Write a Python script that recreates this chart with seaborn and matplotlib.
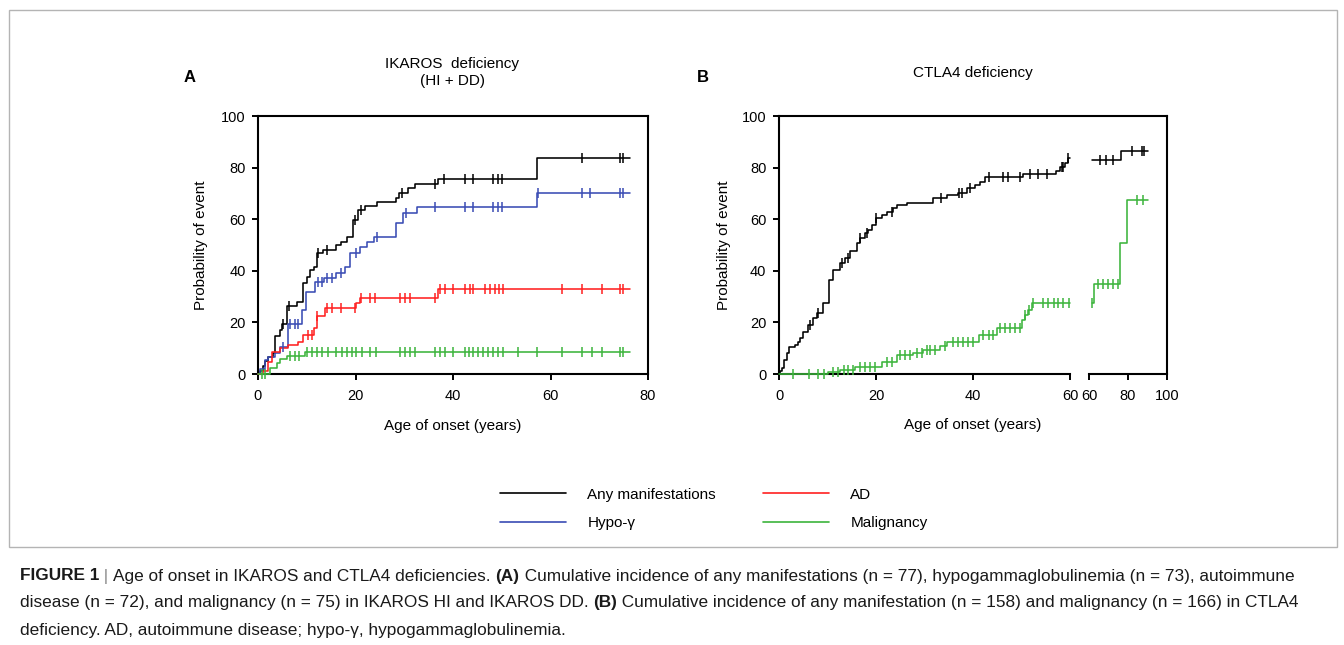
import numpy as np
import pandas as pd
import matplotlib
matplotlib.use("Agg")
import matplotlib.pyplot as plt
import matplotlib.patches as mpatches
from matplotlib.lines import Line2D
import seaborn as sns

sns.set_theme(style="ticks", rc={"axes.edgecolor": "black", "xtick.color": "black",
                                 "ytick.color": "black", "text.color": "black",
                                 "axes.labelcolor": "black"})
plt.rcParams["font.family"] = ["Liberation Sans", "DejaVu Sans"]

# ---- Panel A: IKAROS deficiency (HI + DD) ----
# step times / cumulative incidence (%) after each step, censor times
a_any_t = [0, 0.5, 1, 1.5, 2, 3, 3.4, 4.5, 5, 5.9, 8, 9.2, 10, 10.6, 11.5, 12.2, 13.4,
           16.1, 17.1, 18.2, 19.5, 20.5, 22, 24.4, 28.4, 29, 30.8, 32.2, 37, 57.2, 76.3]
a_any_p = [0, 1.3, 3, 5, 6.5, 8, 14.7, 17, 19.5, 26.5, 28, 35.4, 37.5, 40.3, 41.5, 46.9, 48,
           50, 51.3, 53.2, 59.7, 63.6, 65.2, 66.8, 68.2, 70.2, 72.1, 73.6, 75.6, 83.6, 83.6]
a_any_c = [5.2, 6.3, 12.4, 14.1, 19.8, 21.2, 29.5, 36.3, 38.1, 42.5, 44.2, 48.3, 49.3, 50,
           66.4, 74.3, 74.9]

a_hypo_t = [0, 0.4, 1.4, 2, 3.5, 4.5, 6.2, 9, 9.8, 11.7, 13.6, 16.1, 17.8, 18.9, 20.9, 22.3,
            23.7, 28.4, 29.8, 32.6, 57.2, 76.3]
a_hypo_p = [0, 2, 5.4, 6.5, 8, 10.5, 19.5, 24.8, 31.9, 35.8, 37.3, 39, 41.6, 46.8, 49.3, 51.3,
            53, 58.4, 62.5, 64.6, 70, 70]
a_hypo_c = [5.2, 6.6, 7.6, 8.3, 12.4, 13.1, 14.1, 15.1, 17.1, 20.2, 24.4, 30.3, 36.3, 42.5,
            44.2, 48.3, 49.3, 50, 57.5, 66.4, 68.2, 74.3, 74.9]

a_ad_t = [0, 1.1, 2.1, 2.8, 4.5, 6.2, 8.3, 9.3, 11.4, 12, 13.8, 20.2, 20.9, 37, 76.3]
a_ad_p = [0, 1, 4.8, 8.6, 10, 11.2, 12.5, 15.1, 17.7, 22.5, 25.5, 27.4, 29.3, 32.8, 32.8]
a_ad_c = [10.3, 11.0, 12.2, 14.2, 15.1, 17.1, 19.9, 21.2, 23, 24, 29.1, 30.2, 31.2, 36.3,
          37.3, 38.4, 40.1, 42.5, 43.4, 44.2, 46.6, 47.6, 48.6, 49.5, 50.2, 62.3, 66.4, 70.5,
          74.3, 74.9]

a_mal_t = [0, 2.5, 3.8, 4.6, 5.9, 9.6, 76.3]
a_mal_p = [0, 2.2, 4.1, 5.7, 7.0, 8.6, 8.6]
a_mal_c = [0.8, 1.4, 6.5, 7.5, 8.5, 10.0, 11.0, 12.0, 13.1, 14.4, 16.1, 17.2, 18.2, 19.2,
           20.2, 21.3, 23.0, 24.3, 29.1, 30.2, 31.2, 32.2, 36.3, 37.3, 38.4, 40.1, 42.5, 43.3,
           44.2, 45.2, 46.2, 47.2, 48.3, 49.3, 50.2, 53.4, 57.2, 62.3, 66.4, 68.5, 70.5, 74.3,
           74.9]

# ---- Panel B: CTLA4 deficiency (broken x axis 0-60 | 60-100) ----
b_any_t = [0, 0.2, 0.6, 1.0, 1.6, 2.1, 3.3, 4.0, 4.3, 5.0, 5.9, 7.1, 7.8, 9.1, 10.3, 11.2,
           12.6, 13.6, 14.6, 16.0, 16.7, 17.7, 18.4, 19.1, 20.1, 21.2, 22.2, 23.6, 24.3, 26.3,
           31.8, 34.6, 37.0, 38.7, 40.4, 41.4, 42.5, 50.4, 57.2, 57.9, 58.9, 59.6, 60]
b_any_p = [0, 1, 2.2, 5.4, 8, 10.5, 11.2, 12.5, 13.8, 16.4, 19, 21.6, 23.6, 27.7, 36.4, 40.3,
           43, 45, 47.8, 50.6, 52.6, 54.5, 55.8, 57.8, 60.4, 61.6, 62.9, 64.2, 65.5, 66.2,
           68.1, 69.4, 70.0, 72, 73.3, 74.5, 76.2, 77.5, 78.8, 80.4, 81.7, 83.6, 83.6]
b_any_c = [6.3, 8.1, 12.9, 14.3, 16.7, 18.1, 20.1, 23.2, 33.3, 37.2, 37.7, 39.4, 43.2, 46.2,
           47.3, 49.7, 51.8, 53.5, 55.2, 58.3, 58.6, 59.6]
b_any_t2 = [61.5, 76.4, 90]
b_any_p2 = [83, 86.5, 86.5]
b_any_c2 = [65.6, 68.7, 72.3, 81.9, 87, 88.2]

b_mal_t = [0, 10.2, 12.5, 15.7, 21.2, 24.3, 27.7, 29.7, 33.2, 34.6, 41.3, 44.9, 50.0, 50.7,
           51.4, 52.1, 60]
b_mal_p = [0, 0.9, 1.6, 2.9, 4.8, 7.3, 8.3, 9.3, 10.9, 12.3, 15.1, 17.7, 21, 22.9, 24.8,
           27.7, 27.7]
b_mal_c = [2.9, 6.1, 8.1, 9.2, 11.2, 12.2, 13.3, 14.3, 15.3, 16.7, 17.7, 18.8, 19.8, 22.2,
           23.2, 24.9, 26.0, 27.0, 28.4, 29.4, 30.5, 31.1, 32.2, 34.2, 35.9, 37.0, 38.0, 39.0,
           40.1, 42.1, 43.2, 44.2, 45.6, 46.6, 47.6, 48.7, 49.7, 50.8, 51.5, 52.4, 54.5, 55.5,
           56.6, 57.6, 58.6, 59.7]
b_mal_t2 = [61.5, 62.5, 75.9, 79.5, 90]
b_mal_p2 = [27.6, 34.9, 50.9, 67.4, 67.4]
b_mal_c2 = [61.5, 64.6, 67.0, 69.7, 72.3, 74.9, 84.6, 87.7]

labels = ["Any manifestations", "Hypo-γ", "AD", "Malignancy"]
colors = {"Any manifestations": "black", "Hypo-γ": "#3a4cb4",
          "AD": "#ff2020", "Malignancy": "#3cb43c"}

W, H = 1344, 645
fig = plt.figure(figsize=(W / 100, H / 100), dpi=100)


def px(x0, y0, x1, y1):
    return [x0 / W, 1 - y1 / H, (x1 - x0) / W, (y1 - y0) / H]


def km(ax, t, p, cens, name):
    df = pd.DataFrame({"time": t, "prob": p})
    sns.lineplot(data=df, x="time", y="prob", drawstyle="steps-post", color=colors[name],
                 lw=1.15, estimator=None, errorbar=None, ax=ax, clip_on=False, zorder=3)
    idx = np.searchsorted(t, cens, side="right") - 1
    cdf = pd.DataFrame({"time": cens, "prob": np.array(p)[idx]})
    sns.scatterplot(data=cdf, x="time", y="prob", marker="|", s=55, linewidth=1.1,
                    color=colors[name], ax=ax, clip_on=False, zorder=4)


def style(ax):
    ax.tick_params(labelsize=10.5, length=4, width=1.4, pad=5)
    ax.tick_params(axis="x", pad=6.5)
    for s in ax.spines.values():
        s.set_linewidth(1.5)
    ax.set_xlabel("")
    ax.set_ylabel("")


# Panel A
axA = fig.add_axes(px(258, 116, 648, 374))
km(axA, a_any_t, a_any_p, a_any_c, "Any manifestations")
km(axA, a_hypo_t, a_hypo_p, a_hypo_c, "Hypo-γ")
km(axA, a_ad_t, a_ad_p, a_ad_c, "AD")
km(axA, a_mal_t, a_mal_p, a_mal_c, "Malignancy")
axA.set_xlim(0, 80)
axA.set_ylim(0, 100)
axA.set_xticks(range(0, 81, 20))
axA.set_yticks(range(0, 101, 20))
style(axA)
axA.set_xlabel("Age of onset (years)", fontsize=11, labelpad=12)
axA.set_ylabel("Probability of event", fontsize=11, labelpad=9)

# Panel B frame (left, top, right spines, y axis)
axB = fig.add_axes(px(779, 116, 1167, 374))
axB.set_ylim(0, 100)
axB.set_yticks(range(0, 101, 20))
axB.set_xticks([])
axB.spines["bottom"].set_visible(False)
axB.patch.set_alpha(0)
style(axB)
axB.set_ylabel("Probability of event", fontsize=11, labelpad=8)

axB1 = fig.add_axes(px(779, 116, 1070, 374), sharey=axB)
axB2 = fig.add_axes(px(1089, 116, 1167, 374), sharey=axB)
km(axB1, b_any_t, b_any_p, b_any_c, "Any manifestations")
km(axB1, b_mal_t, b_mal_p, b_mal_c, "Malignancy")
km(axB2, b_any_t2, b_any_p2, b_any_c2, "Any manifestations")
km(axB2, b_mal_t2, b_mal_p2, b_mal_c2, "Malignancy")
axB1.set_xlim(0, 60)
axB1.set_xticks([0, 20, 40, 60])
axB2.set_xlim(60, 100)
axB2.set_xticks([60, 80, 100])
for ax in (axB1, axB2):
    ax.patch.set_alpha(0)
    for side in ("left", "top", "right"):
        ax.spines[side].set_visible(False)
    style(ax)
    ax.tick_params(axis="y", left=False, labelleft=False)
fig.text(973 / W, 1 - 425 / H, "Age of onset (years)", fontsize=11, ha="center", va="center")

# titles and panel letters
fig.text(452 / W, 1 - 72.5 / H, "IKAROS  deficiency\n(HI + DD)", fontsize=11,
         ha="center", va="center", linespacing=1.3)
fig.text(973 / W, 1 - 73 / H, "CTLA4 deficiency", fontsize=11, ha="center", va="center")
fig.text(190 / W, 1 - 78 / H, "A", fontsize=12, fontweight="bold", ha="center", va="center")
fig.text(703 / W, 1 - 78 / H, "B", fontsize=12, fontweight="bold", ha="center", va="center")

# legend
handles = [Line2D([], [], color=colors[n], lw=1.2) for n in labels]
fig.legend(handles, labels, loc="center", bbox_to_anchor=(714 / W, 1 - 509 / H), ncol=2,
           frameon=False, fontsize=11, handlelength=4.3, handletextpad=1.4,
           columnspacing=3.1, labelspacing=0.95)

# figure border
fig.add_artist(mpatches.Rectangle((9 / W, 1 - 547 / H), 1328 / W, 537 / H,
                                  transform=fig.transFigure, fill=False,
                                  edgecolor="#b4b4b4", lw=1.0))

# caption
renderer = fig.canvas.get_renderer()


def write_line(x, y, parts, size=12.4):
    x = x / W
    for txt, bold, col in parts:
        t = fig.text(x, 1 - y / H, txt, fontsize=size, color=col,
                     fontweight="bold" if bold else "normal", ha="left", va="center")
        x += t.get_window_extent(renderer=renderer).width / W


cap = "#1a1a1a"
write_line(20, 576, [("FIGURE 1", True, cap), (" | ", False, "#888888"),
                     ("Age of onset in IKAROS and CTLA4 deficiencies. ", False, cap),
                     ("(A)", True, cap),
                     (" Cumulative incidence of any manifestations (n = 77), hypogammaglobulinemia "
                      "(n = 73), autoimmune", False, cap)])
write_line(20, 603, [("disease (n = 72), and malignancy (n = 75) in IKAROS HI and IKAROS DD. ",
                      False, cap), ("(B)", True, cap),
                     (" Cumulative incidence of any manifestation (n = 158) and malignancy "
                      "(n = 166) in CTLA4", False, cap)])
write_line(20, 630, [("deficiency. AD, autoimmune disease; hypo-γ, hypogammaglobulinemia.",
                      False, cap)])

fig.savefig("out.png", dpi=100)
